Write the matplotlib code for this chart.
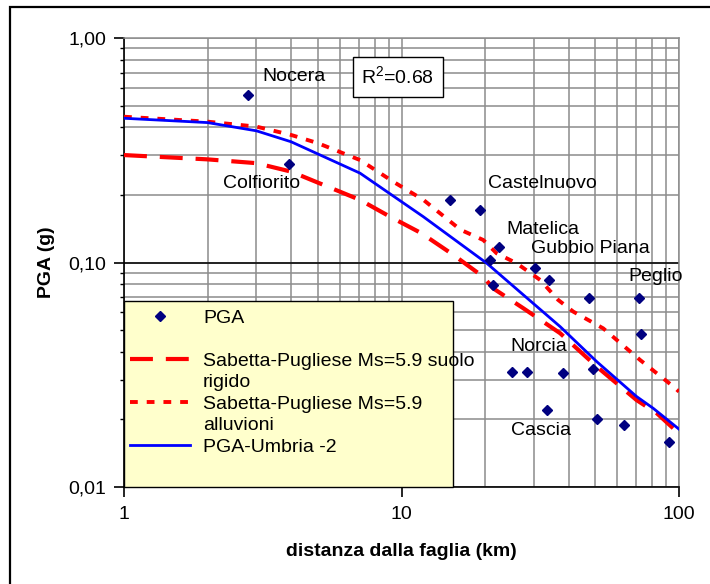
import matplotlib
matplotlib.use("Agg")
import matplotlib.pyplot as plt
from matplotlib.patches import Rectangle
from matplotlib.lines import Line2D
from matplotlib.ticker import FixedLocator, FixedFormatter, NullFormatter
import numpy as np

plt.rcParams['font.family'] = ['Liberation Sans', 'DejaVu Sans']
plt.rcParams['font.size'] = 14
plt.rcParams['mathtext.fontset'] = 'custom'
plt.rcParams['mathtext.rm'] = 'Liberation Sans'

# recorded PGA values (distance km, PGA g)
pga_dist = [2.80, 3.93, 14.96, 19.2, 22.5, 20.9, 30.3, 34.1, 21.4, 47.4,
            71.8, 73.0, 25.0, 28.3, 38.3, 49.0, 33.4, 50.8, 63.4, 92.0]
pga_val = [0.557, 0.275, 0.189, 0.171, 0.117, 0.103, 0.0945, 0.0838, 0.0794, 0.0695,
           0.0695, 0.0479, 0.0324, 0.0325, 0.0323, 0.0336, 0.0220, 0.0201, 0.0188, 0.0159]

# PGA-Umbria -2 relation
umb_dist = [1, 2, 3, 4, 7.09, 11.98, 20.3, 27.5, 37.3, 50.5, 70.3, 80.8, 100]
umb_val = [0.439, 0.420, 0.386, 0.345, 0.250, 0.160, 0.0992, 0.0717, 0.0518, 0.0362, 0.0253, 0.0224, 0.0181]

# Sabetta-Pugliese Ms=5.9, suolo rigido
sp_rig_dist = [1, 2, 3, 4, 7.09, 9.09, 11.8, 15.4, 19.7, 21.4, 27.5, 37.3, 50.5, 70.3, 83.2, 100]
sp_rig_val = [0.301, 0.288, 0.277, 0.254, 0.190, 0.160, 0.135, 0.108, 0.0864, 0.0767,
              0.0625, 0.0484, 0.0344, 0.0244, 0.0213, 0.0173]

# Sabetta-Pugliese Ms=5.9, alluvioni
sp_all_dist = [1, 2, 3, 4, 5, 7.09, 9.34, 12.0, 16.3, 19.7, 22.0, 26.0, 31.6, 36.7,
               41.6, 53.3, 72.4, 95.5, 100]
sp_all_val = [0.446, 0.424, 0.403, 0.370, 0.340, 0.286, 0.229, 0.190, 0.140, 0.126, 0.110,
              0.0992, 0.0836, 0.0681, 0.0604, 0.0509, 0.0368, 0.0280, 0.0266]

# station names
stations = ['Nocera', 'Colfiorito', 'Castelnuovo', 'Matelica', 'Gubbio Piana', 'Peglio', 'Norcia', 'Cascia']
station_x = [3.14, 2.27, 20.5, 23.8, 29.3, 65.5, 24.6, 24.8]
station_y = [0.677, 0.226, 0.226, 0.141, 0.116, 0.0862, 0.0421, 0.0178]

x_ticks = [1, 10, 100]
x_ticklabels = ['1', '10', '100']
y_ticks = [0.01, 0.1, 1.0]
y_ticklabels = ['0,01', '0,10', '1,00']

fig = plt.figure(figsize=(7.1, 5.84), dpi=100)
ax = fig.add_axes([124 / 710, 1 - 487 / 584, 555 / 710, 449 / 584])
ax.set_xscale('log')
ax.set_yscale('log')
ax.set_xlim(1, 100)
ax.set_ylim(0.01, 1.0)

grid_c = '#8c8c8c'
ax.grid(True, which='both', color=grid_c, linewidth=1.1)
ax.axhline(0.1, color='black', linewidth=1.1, zorder=1.5)
ax.set_axisbelow(True)
for s in ['top', 'right']:
    ax.spines[s].set_color(grid_c)
    ax.spines[s].set_linewidth(1.1)
for s in ['left', 'bottom']:
    ax.spines[s].set_linewidth(1.2)

ax.xaxis.set_major_locator(FixedLocator(x_ticks))
ax.xaxis.set_major_formatter(FixedFormatter(x_ticklabels))
ax.xaxis.set_minor_formatter(NullFormatter())
ax.yaxis.set_major_locator(FixedLocator(y_ticks))
ax.yaxis.set_major_formatter(FixedFormatter(y_ticklabels))
ax.yaxis.set_minor_formatter(NullFormatter())
ax.tick_params(axis='x', which='major', length=7, width=1.2, pad=7, labelsize=14)
ax.tick_params(axis='x', which='minor', length=0)
ax.tick_params(axis='y', which='major', length=7, width=1.2, pad=6, labelsize=14)
ax.tick_params(axis='y', which='minor', length=3, width=1.0)

dash_rig = (5.5, 3.1)
dash_all = (2.0, 2.3)
ax.plot(sp_rig_dist, sp_rig_val, color='#ff0000', linewidth=3.0, dashes=dash_rig, zorder=3)
ax.plot(sp_all_dist, sp_all_val, color='#ff0000', linewidth=2.8, dashes=dash_all, zorder=3)
ax.plot(umb_dist, umb_val, color='#0000ff', linewidth=2.0, zorder=4)
ax.plot(pga_dist, pga_val, linestyle='none', marker='D', markersize=5.5,
        color='#000080', zorder=5)

for name, sx, sy in zip(stations, station_x, station_y):
    ax.text(sx, sy, name, ha='left', va='center', fontsize=14, zorder=6)

ax.text(9.71, 0.670, r'R$^{2}$=0.68', ha='center', va='center', fontsize=14, zorder=6,
        bbox=dict(boxstyle='square,pad=0.45', facecolor='white', edgecolor='black', linewidth=1.0))

ax.set_xlabel('distanza dalla faglia (km)', fontsize=14, fontweight='bold')
ax.set_ylabel('PGA (g)', fontsize=14, fontweight='bold')
ax.xaxis.set_label_coords(0.5, -0.125)
ax.yaxis.set_label_coords(-0.124, 0.5)

# legend box
ax.add_patch(Rectangle((0, 0), 329 / 555, 186 / 449, transform=ax.transAxes,
                       facecolor='#ffffcc', edgecolor='black', linewidth=1.0,
                       zorder=10, clip_on=False))
blank = Line2D([], [], linestyle='none')
handles = [
    Line2D([], [], linestyle='none', marker='D', markersize=5.5, color='#000080'),
    blank,
    Line2D([], [], color='#ff0000', linewidth=3.0, dashes=dash_rig),
    blank,
    Line2D([], [], color='#ff0000', linewidth=2.8, dashes=dash_all),
    blank,
    Line2D([], [], color='#0000ff', linewidth=2.0),
]
labels = ['PGA', ' ', 'Sabetta-Pugliese Ms=5.9 suolo', 'rigido',
          'Sabetta-Pugliese Ms=5.9', 'alluvioni', 'PGA-Umbria -2']
leg = ax.legend(handles, labels, loc='upper left', bbox_to_anchor=(6 / 555, 178 / 449),
                frameon=False, fontsize=14, handlelength=3.1, handletextpad=0.65,
                labelspacing=0.2, borderpad=0, borderaxespad=0)
leg.set_zorder(11)

# outer chart border
fig.add_artist(Rectangle((10 / 710, -0.05), 1.0, 1 - 7 / 584 + 0.05, transform=fig.transFigure,
                         fill=False, edgecolor='black', linewidth=1.6))

fig.savefig('out.png', dpi=100)
